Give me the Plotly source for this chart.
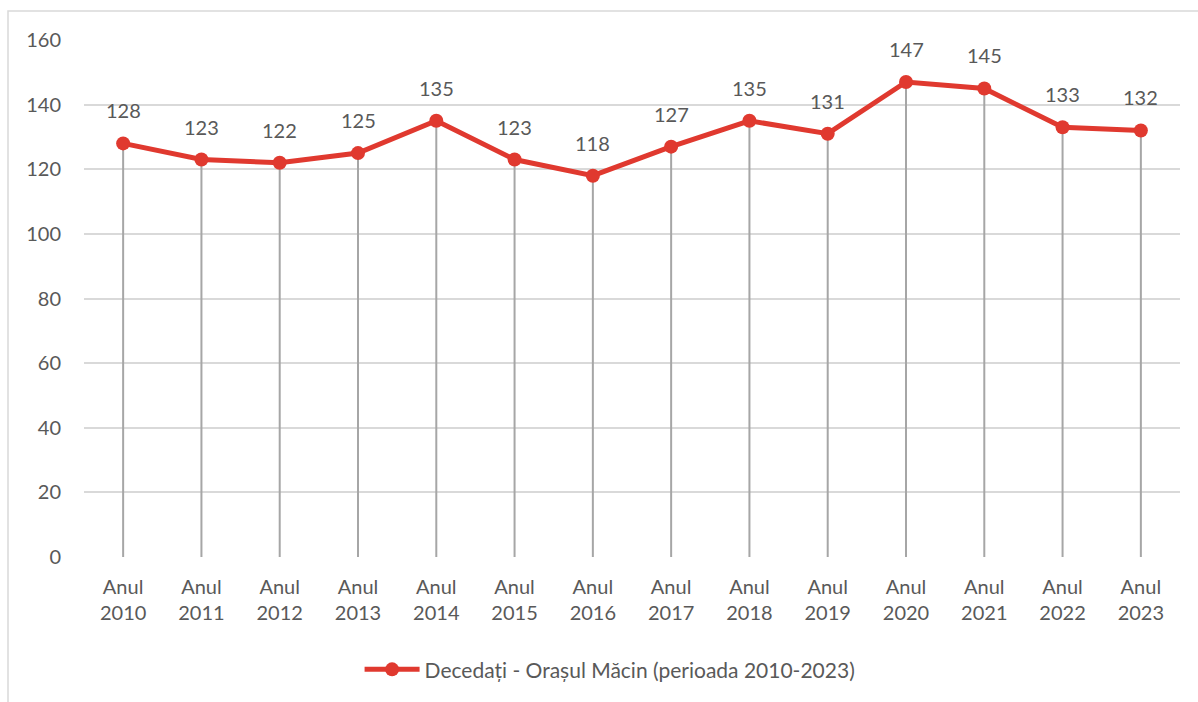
import plotly.graph_objects as go

# Deaths per year, town of Măcin
years = ["2010", "2011", "2012", "2013", "2014", "2015", "2016",
         "2017", "2018", "2019", "2020", "2021", "2022", "2023"]
deaths = [128, 123, 122, 125, 135, 123, 118, 127, 135, 131, 147, 145, 133, 132]
series_name = "Decedați - Orașul Măcin (perioada 2010-2023)"
y_ticks = [0, 20, 40, 60, 80, 100, 120, 140, 160]

categories = [f"Anul<br>{y}" for y in years]

TEXT = "#595959"
RED = "#e0392f"
FONT = "Lato, 'Open Sans', sans-serif"
FS = 20

# vertical drop lines from each point down to zero
drop_x, drop_y = [], []
for c, v in zip(categories, deaths):
    drop_x += [c, c, None]
    drop_y += [0, v, None]

fig = go.Figure()
fig.add_trace(go.Scatter(
    x=drop_x, y=drop_y, mode="lines",
    line=dict(color="#a6a6a6", width=2),
    showlegend=False, hoverinfo="skip",
))
fig.add_trace(go.Scatter(
    x=categories, y=deaths, mode="lines+markers",
    name=series_name,
    line=dict(color=RED, width=5),
    marker=dict(color=RED, size=14),
))

for c, v in zip(categories, deaths):
    fig.add_annotation(
        x=c, y=v, text=str(v), showarrow=False, yshift=33,
        font=dict(family=FONT, size=FS, color=TEXT),
    )

# light outer frame of the chart area
fig.add_shape(
    type="rect", xref="paper", yref="paper",
    x0=-76 / 1096, x1=1.2, y0=-0.5, y1=1 + 29 / 517,
    line=dict(color="#d9d9d9", width=1.5), layer="below",
)

fig.update_layout(
    width=1198, height=702,
    margin=dict(l=84, r=18, t=40, b=145),
    paper_bgcolor="white", plot_bgcolor="white",
    font=dict(family=FONT, size=FS, color=TEXT),
    showlegend=True,
    legend=dict(
        orientation="h", x=0.48, xanchor="center",
        y=-0.218, yanchor="middle",
        font=dict(family=FONT, size=21, color=TEXT),
        itemwidth=55,
    ),
    xaxis=dict(
        type="category", range=[-0.5, len(years) - 0.5],
        showgrid=False, zeroline=False,
        showline=False, ticks="", ticklabelstandoff=16,
        tickfont=dict(family=FONT, size=FS, color=TEXT),
    ),
    yaxis=dict(
        range=[0, 160], tickvals=y_ticks,
        showgrid=True, gridcolor="#d9d9d9", gridwidth=1.5,
        zeroline=False, showline=False, ticks="",
        ticklabelstandoff=22,
        tickfont=dict(family=FONT, size=FS, color=TEXT),
    ),
)

fig.write_html("out.html")
